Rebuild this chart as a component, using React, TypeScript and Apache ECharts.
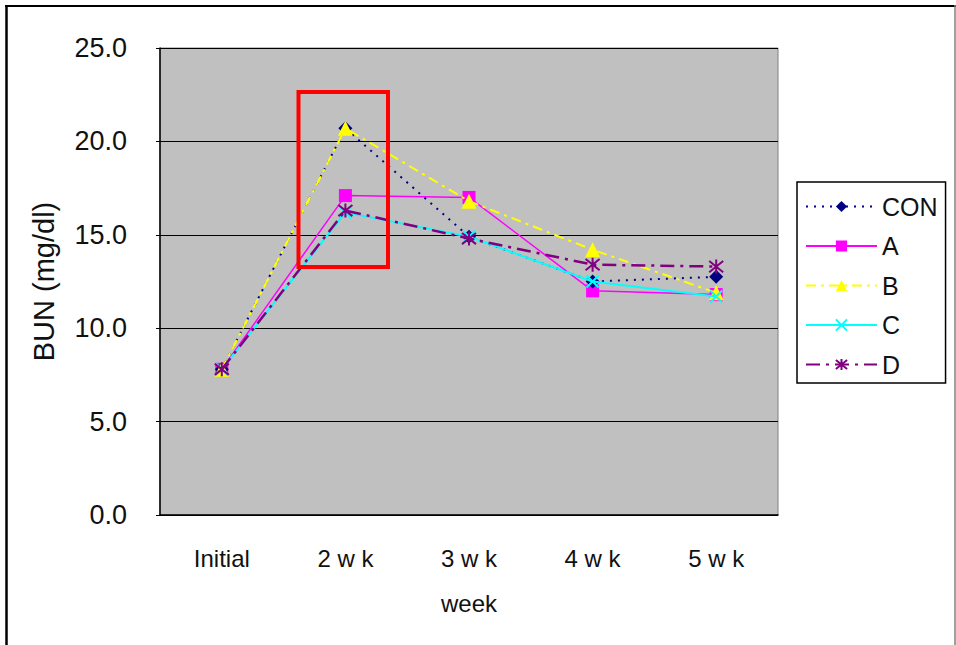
import React, { useEffect, useRef } from "react";
import * as echarts from "echarts";

const categories = ["Initial", "2 w k", "3 w k", "4 w k", "5 w k"];
const seriesNames = ["CON", "A", "B", "C", "D"];
const conValues = [7.8, 20.7, 14.9, 12.5, 12.75];
const aValues = [7.8, 17.1, 17.0, 12.0, 11.8];
const bValues = [7.8, 20.7, 16.8, 14.2, 11.9];
const cValues = [7.8, 16.2, 14.9, 12.5, 11.7];
const dValues = [7.8, 16.3, 14.8, 13.4, 13.3];
const yMin = 0;
const yMax = 25;
const yInterval = 5;

const FONT = "'Liberation Sans', Arial, sans-serif";

const X_SYMBOL = "path://M0,0L10,10M10,0L0,10";
const STAR_SYMBOL = "path://M1,1L9,9M9,1L1,9M5,0L5,10";

export default function App() {
  const ref = useRef<HTMLDivElement>(null);
  useEffect(() => {
    if (!ref.current) return;
    const chart = echarts.init(ref.current, undefined, { renderer: "svg" });
    const mk = (
      name: string,
      data: number[],
      color: string,
      symbol: string,
      symbolSize: number,
      lineType: any,
      lineWidth: number,
      borderWidth: number,
      z: number
    ) => ({
      name,
      type: "line",
      data,
      symbol,
      symbolSize,
      z,
      lineStyle: { color, width: lineWidth, type: lineType },
      itemStyle: { color, borderColor: color, borderWidth },
      emphasis: { disabled: true },
    });
    chart.setOption({
      animation: false,
      backgroundColor: "#ffffff",
      textStyle: { fontFamily: FONT },
      grid: {
        left: 160,
        top: 48,
        right: 178,
        bottom: 130,
        show: true,
        backgroundColor: "#C0C0C0",
        borderColor: "#808080",
        borderWidth: 1,
      },
      legend: {
        orient: "vertical",
        left: 797,
        top: 182,
        padding: [12, 8, 6, 8],
        itemGap: 14.5,
        itemWidth: 71,
        itemHeight: 14,
        borderColor: "#000",
        borderWidth: 1.5,
        backgroundColor: "#fff",
        data: seriesNames,
        textStyle: { fontSize: 25, color: "#111", fontFamily: FONT },
      },
      xAxis: {
        type: "category",
        data: categories,
        boundaryGap: true,
        name: "week",
        nameLocation: "middle",
        nameGap: 76,
        nameTextStyle: { fontSize: 24, color: "#111", fontFamily: FONT },
        axisLine: { lineStyle: { color: "#000", width: 1.5 } },
        axisTick: { inside: true, length: 9, lineStyle: { color: "#000" } },
        axisLabel: { fontSize: 24, color: "#111", margin: 31, fontFamily: FONT },
        splitLine: { show: false },
      },
      yAxis: {
        type: "value",
        min: yMin,
        max: yMax,
        interval: yInterval,
        name: "BUN (mg/dl)",
        nameLocation: "middle",
        nameGap: 102,
        nameRotate: 90,
        nameTextStyle: { fontSize: 29, color: "#111", fontFamily: FONT },
        axisLine: { show: true, lineStyle: { color: "#000", width: 1.5 } },
        axisTick: { show: true, inside: false, length: 4, lineStyle: { color: "#000" } },
        axisLabel: {
          fontSize: 27,
          color: "#111",
          margin: 33,
          fontFamily: FONT,
          formatter: (v: number) => v.toFixed(1),
        },
        splitLine: { show: true, lineStyle: { color: "#000", width: 1 } },
      },
      series: [
        mk("CON", conValues, "#000080", "diamond", 14, [2, 6], 2, 0, 3),
        mk("A", aValues, "#FF00FF", "rect", 13, "solid", 1.5, 0, 2),
        mk("B", bValues, "#FFFF00", "triangle", 15, [10, 5, 3, 5], 2, 0, 4),
        mk("C", cValues, "#00FFFF", X_SYMBOL, 12, "solid", 2, 2, 5),
        mk("D", dValues, "#800080", STAR_SYMBOL, 14, [14, 6, 3, 6], 2.5, 2, 6),
      ],
      graphic: [
        {
          type: "rect",
          z: 100,
          shape: { x: 298.5, y: 92, width: 89.5, height: 175 },
          style: { fill: "none", stroke: "#FF0000", lineWidth: 4 },
        },
        {
          type: "line",
          z: 100,
          shape: { x1: 6.5, y1: 5, x2: 6.5, y2: 650 },
          style: { stroke: "#000", lineWidth: 2.5 },
        },
        {
          type: "line",
          z: 100,
          shape: { x1: 5, y1: 6, x2: 956, y2: 6 },
          style: { stroke: "#000", lineWidth: 2 },
        },
        {
          type: "line",
          z: 100,
          shape: { x1: 955, y1: 5, x2: 955, y2: 650 },
          style: { stroke: "#808080", lineWidth: 1.5 },
        },
      ],
    });
    return () => chart.dispose();
  }, []);
  return (
    <div
      ref={ref}
      style={{ position: "absolute", left: 0, top: 0, width: 956, height: 645 }}
    />
  );
}
